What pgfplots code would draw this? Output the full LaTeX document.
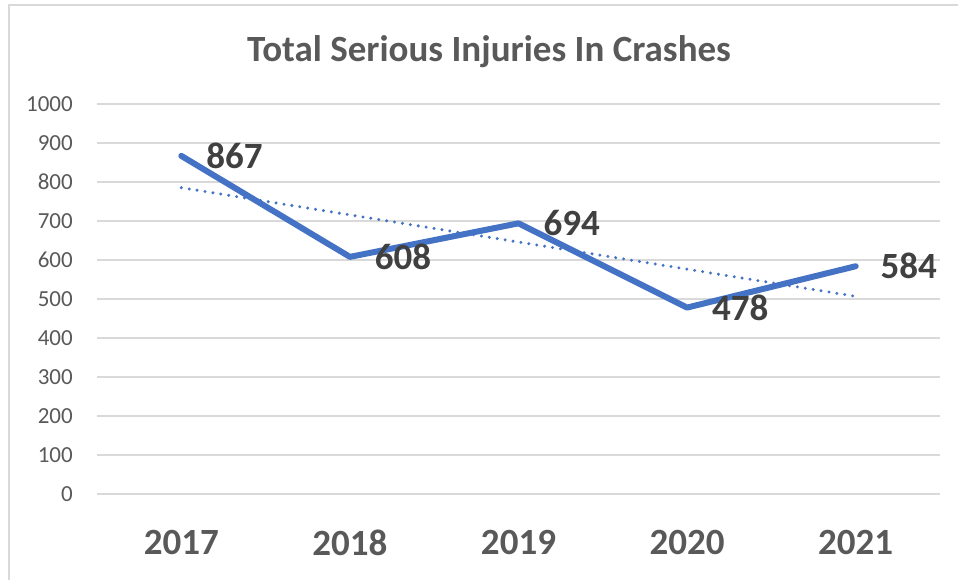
\documentclass[border=0pt]{standalone}
\usepackage{fontspec}
\setmainfont{Carlito}
\usepackage{pgfplots}
\pgfplotsset{compat=1.18}
\definecolor{ser}{HTML}{4472C4}
\definecolor{txtgray}{HTML}{595959}
\definecolor{lblgray}{HTML}{404040}
\definecolor{gridgray}{HTML}{D9D9D9}
\begin{document}
\begin{tikzpicture}[x=1pt,y=1pt]
	\useasboundingbox (0,0) rectangle (958,580);
	\draw[gridgray, line width=1.5pt] (9,-5) -- (9,575) -- (965,575);
	\node[anchor=base, inner sep=0pt, text=txtgray,
		font=\fontsize{37}{44}\selectfont\bfseries] at (489,518)
		{Total Serious Injuries In Crashes};
	\begin{axis}[
		at={(97pt,86pt)}, anchor=south west,
		scale only axis, width=843pt, height=390pt,
		xmin=0.5, xmax=5.5, ymin=0, ymax=1000,
		clip=false,
		axis line style={draw=none},
		major tick length=0pt,
		xtick={1,2,3,4,5},
		xticklabels={2017,2018,2019,2020,2021},
		ytick={0,100,...,1000},
		ymajorgrids,
		grid style={gridgray, line width=1.5pt},
		/pgf/number format/.cd, 1000 sep={}, assume math mode=true,
		/pgfplots/.cd,
		yticklabel style={anchor=east, inner sep=0pt, xshift=-24pt,
			text=txtgray, font=\fontsize{23}{27}\selectfont},
		xticklabel style={anchor=north, inner sep=0pt, yshift=-36pt,
			text=txtgray, font=\fontsize{37}{44}\selectfont\bfseries},
	]
		% linear trendline
		\addplot[ser, line width=3.3pt, line cap=round,
			dash pattern=on 0pt off 8pt] coordinates {(1,785.4) (5,506.8)};
		\addplot[ser, line width=6pt, line cap=round, line join=round,
			nodes near coords,
			nodes near coords style={anchor=west, inner sep=0pt, xshift=22pt,
				text=lblgray, font=\fontsize{37}{44}\selectfont\bfseries}]
			coordinates {(1,867) (2,608) (3,694) (4,478) (5,584)};
	\end{axis}
\end{tikzpicture}
\end{document}
